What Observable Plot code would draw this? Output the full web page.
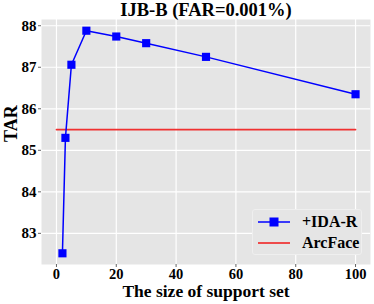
<!DOCTYPE html>
<html><head><meta charset="utf-8">
<script src="https://cdn.jsdelivr.net/npm/d3@7"></script>
<script src="https://cdn.jsdelivr.net/npm/@observablehq/plot@0.6"></script>
<style>
body{margin:0;background:#fff;}
#wrap{position:relative;width:374px;height:304px;}
#legend{position:absolute;left:252px;top:209px;width:110px;height:46px;background:#e5e5e5;border:1px solid #efefef;border-radius:3px;box-sizing:border-box;font-family:"Liberation Serif",serif;font-weight:bold;font-size:16px;}
#legend .row{position:absolute;left:4px;height:20px;display:flex;align-items:center;}
#legend .row span{position:absolute;left:45px;white-space:nowrap;}
</style>
</head><body>
<div id="wrap"></div>
<script>
const title = "IJB-B (FAR=0.001%)";
const xLabel = "The size of support set";
const yLabel = "TAR";
const supportSize = [2, 3, 5, 10, 20, 30, 50, 100];
const idaR = [82.52, 85.30, 87.06, 87.88, 87.74, 87.58, 87.25, 86.35];
const arcFaceX = [0, 100];
const arcFaceTAR = 85.5;
const xTicks = [0, 20, 40, 60, 80, 100];
const yTicks = [83, 84, 85, 86, 87, 88];
const seriesNames = ["+IDA-R", "ArcFace"];

const pts = supportSize.map((s, i) => ({x: s, y: idaR[i]}));
const base = arcFaceX.map(x => ({x, y: arcFaceTAR}));
const font = "Liberation Serif";

const chart = Plot.plot({
  width: 374, height: 304,
  marginLeft: 41, marginRight: 4, marginTop: 19, marginBottom: 40,
  style: {fontFamily: font, background: "white"},
  x: {domain: [-5, 105], ticks: xTicks},
  y: {domain: [82.25, 88.15], ticks: yTicks},
  marks: [
    Plot.frame({fill: "#e5e5e5", stroke: "none"}),
    Plot.gridX(xTicks, {stroke: "white", strokeOpacity: 1, strokeWidth: 1.2}),
    Plot.gridY(yTicks, {stroke: "white", strokeOpacity: 1, strokeWidth: 1.2}),
    Plot.axisX(xTicks, {tickSize: 3, stroke: "#666", tickPadding: 1, fontSize: 14.5, fontWeight: "bold", fill: "black", label: null, tickFormat: d => String(d)}),
    Plot.axisY(yTicks, {tickSize: 3, stroke: "#666", tickPadding: 2, fontSize: 15, fontWeight: "bold", fill: "black", label: null, tickFormat: d => String(d)}),
    Plot.line(base, {x: "x", y: "y", stroke: "#f03030", strokeWidth: 1.7}),
    Plot.line(pts, {x: "x", y: "y", stroke: "#0000ff", strokeWidth: 1.5}),
    Plot.dot(pts, {x: "x", y: "y", symbol: "square", r: 4.6, fill: "#0000ff", stroke: "none"}),
    Plot.text([title], {frameAnchor: "top", dy: -9, fontSize: 18.5, fontWeight: "bold", fill: "black", lineAnchor: "middle"}),
    Plot.text([xLabel], {frameAnchor: "bottom", dy: 26.5, fontSize: 17.5, fontWeight: "bold", fill: "black", lineAnchor: "middle"}),
    Plot.text([yLabel], {frameAnchor: "left", dx: -30, rotate: -90, fontSize: 18, fontWeight: "bold", fill: "black", lineAnchor: "middle"})
  ]
});
const wrap = document.getElementById("wrap");
wrap.appendChild(chart);
const lg = document.createElement("div");
lg.id = "legend";
lg.innerHTML = `
<div class="row" style="top:2px"><svg width="34" height="20"><line x1="1" x2="33" y1="10" y2="10" stroke="#0000ff" stroke-width="1.5"/><rect x="12.5" y="5.5" width="9" height="9" fill="#0000ff"/></svg><span>${seriesNames[0]}</span></div>
<div class="row" style="top:23px"><svg width="34" height="20"><line x1="1" x2="33" y1="10" y2="10" stroke="#f03030" stroke-width="1.7"/></svg><span>${seriesNames[1]}</span></div>`;
wrap.appendChild(lg);
</script>
</body></html>
